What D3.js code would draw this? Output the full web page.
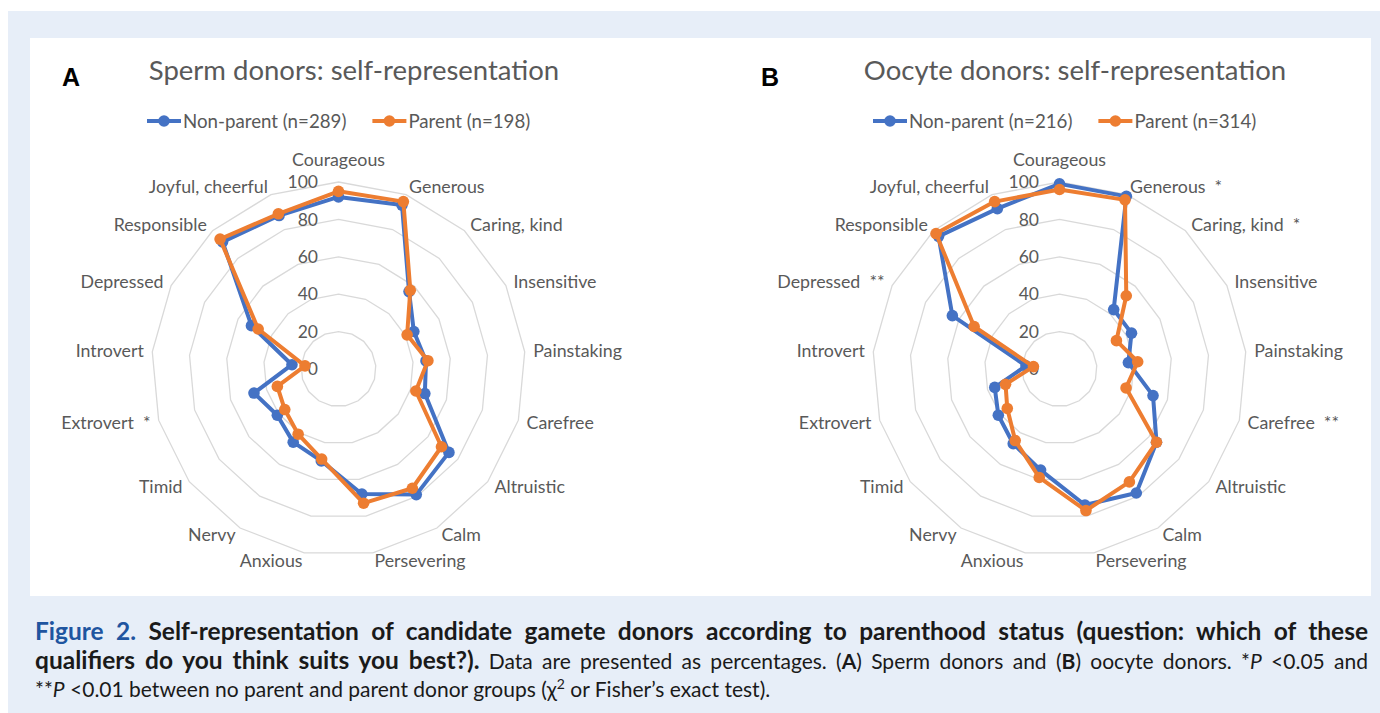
<!DOCTYPE html>
<html>
<head>
<meta charset="utf-8">
<script src="https://cdn.jsdelivr.net/npm/d3@7"></script>
<style>
  html, body { margin: 0; padding: 0; background: #ffffff; }
  svg text { font-family: Lato, "Open Sans", sans-serif; }
  .pre { white-space: pre; }
</style>
</head>
<body>
<svg id="fig" width="1380" height="713"></svg>
<script>
// Qualifiers, clockwise from the top of each radar
const categories = [
  "Courageous", "Generous", "Caring, kind", "Insensitive", "Painstaking",
  "Carefree", "Altruistic", "Calm", "Persevering", "Anxious", "Nervy",
  "Timid", "Extrovert", "Introvert", "Depressed", "Responsible", "Joyful, cheerful"
];

// Percentages of donors choosing each qualifier
const spermNonParent  = [92, 94, 56, 45, 47, 48, 74, 79, 68, 50, 46, 41, 47, 25, 52, 92, 88];
const spermParent     = [95, 96, 57, 41, 48, 43, 69, 75, 73, 49, 41, 36, 34, 18, 48, 94, 89];
const oocyteNonParent = [99, 99, 43, 43, 37, 52, 65, 78, 74, 55, 47, 41, 36, 18, 64, 96, 92];
const oocyteParent    = [96, 97, 53, 34, 42, 37, 65, 71, 77, 59, 45, 35, 30, 14, 51, 98, 96];

// Significance marks appended to the qualifier labels
const spermStars  = ["", "", "", "", "", "", "", "", "", "", "", "", "*", "", "", "", ""];
const oocyteStars = ["", "*", "*", "", "", "**", "", "", "", "", "", "", "", "", "**", "", ""];

const radialTicks = [0, 20, 40, 60, 80, 100];
const spermLegend  = ["Non-parent (n=289)", "Parent (n=198)"];
const oocyteLegend = ["Non-parent (n=216)", "Parent (n=314)"];
const seriesColors = ["#4472C4", "#ED7D31"];

const svg = d3.select("#fig");

// Figure frame: tinted block with a white chart panel
svg.append("rect").attr("x", 8).attr("y", 11).attr("width", 1380).attr("height", 713).attr("fill", "#e7eef8");
svg.append("rect").attr("x", 30).attr("y", 38).attr("width", 1341).attr("height", 558).attr("fill", "#ffffff");

const R = 187;
const rScale = d3.scaleLinear().domain([0, 100]).range([0, R]);
const angle = d3.scaleLinear().domain([0, categories.length]).range([0, 2 * Math.PI]);
const textGrey = "#595959";
const labelSize = 17.8;

function radar(opts) {
  const g = svg.append("g").attr("transform", `translate(${opts.cx},${opts.cy})`);

  // concentric grid polygons
  const ring = d3.lineRadial()
    .angle((d, i) => angle(i))
    .radius(d => rScale(d))
    .curve(d3.curveLinearClosed);
  radialTicks.filter(t => t > 0).forEach(t => {
    g.append("path")
      .attr("d", ring(categories.map(() => t)))
      .attr("fill", "none")
      .attr("stroke", "#d9d9d9")
      .attr("stroke-width", 1.3);
  });

  // value axis labels
  g.selectAll("text.tick").data(radialTicks).join("text")
    .attr("class", "tick")
    .attr("x", -20.5)
    .attr("y", t => -rScale(t))
    .attr("dy", "0.35em")
    .attr("text-anchor", "end")
    .attr("font-size", 17.5)
    .attr("fill", textGrey)
    .text(d => d);

  // series lines and markers
  opts.series.forEach((vals, s) => {
    g.append("path")
      .attr("d", ring(vals))
      .attr("fill", "none")
      .attr("stroke", seriesColors[s])
      .attr("stroke-width", 4)
      .attr("stroke-linejoin", "round");
    g.selectAll(null).data(vals).join("circle")
      .attr("cx", (d, i) => rScale(d) * Math.sin(angle(i)))
      .attr("cy", (d, i) => -rScale(d) * Math.cos(angle(i)))
      .attr("r", 5.8)
      .attr("fill", seriesColors[s]);
  });

  // qualifier labels around the outer ring
  categories.forEach((c, i) => {
    const a = angle(i);
    const sx = Math.sin(a), cy = Math.cos(a);
    const label = opts.stars[i] ? `${c}  ${opts.stars[i]}` : c;
    const t = g.append("text")
      .attr("class", "pre")
      .attr("font-size", labelSize)
      .attr("fill", textGrey)
      .text(label);
    if (i === 0) {
      t.attr("x", 0).attr("y", -R - 22).attr("dy", "0.35em").attr("text-anchor", "middle");
    } else {
      const px = (R + 8.5) * sx;
      const py = -(R + 8.5) * cy;
      t.attr("x", px).attr("y", py).attr("dy", "0.35em")
        .attr("text-anchor", sx > 0 ? "start" : "end");
    }
  });

  // panel letter and title
  svg.append("text")
    .attr("x", opts.letterX).attr("y", 86)
    .style("font-family", "'Liberation Sans', Arial, sans-serif")
    .attr("font-weight", "bold").attr("font-size", 25).attr("fill", "#000")
    .text(opts.letter);
  svg.append("text")
    .attr("x", opts.titleX).attr("y", 80)
    .attr("text-anchor", "middle")
    .attr("font-size", 27.5).attr("fill", textGrey)
    .text(opts.title);

  // legend
  let x = opts.legendX;
  const ly = 121;
  opts.legend.forEach((name, s) => {
    svg.append("line")
      .attr("x1", x).attr("x2", x + 34).attr("y1", ly).attr("y2", ly)
      .attr("stroke", seriesColors[s]).attr("stroke-width", 4);
    svg.append("circle").attr("cx", x + 17).attr("cy", ly).attr("r", 5.8).attr("fill", seriesColors[s]);
    const lt = svg.append("text")
      .attr("x", x + 36).attr("y", ly).attr("dy", "0.35em")
      .attr("font-size", 18.7).attr("fill", textGrey)
      .text(name);
    x = x + 36 + lt.node().getComputedTextLength() + 26;
  });
}

radar({
  cx: 338.5, cy: 369, letter: "A", letterX: 62, titleX: 354, legendX: 147,
  title: "Sperm donors: self-representation",
  series: [spermNonParent, spermParent], stars: spermStars, legend: spermLegend
});
radar({
  cx: 1059.5, cy: 369, letter: "B", letterX: 761, titleX: 1075, legendX: 873,
  title: "Oocyte donors: self-representation",
  series: [oocyteNonParent, oocyteParent], stars: oocyteStars, legend: oocyteLegend
});

// Caption
const capBlue = "#1f55a0";
const capLeft = 35, capRight = 1368;
const boldSize = 24.5, plainSize = 21;

function captionLine(y, parts, justify) {
  const t = svg.append("text").attr("x", capLeft).attr("y", y).attr("class", "pre").attr("fill", "#1a1a1a");
  parts.forEach(p => {
    const sp = t.append("tspan").text(p.text)
      .attr("font-size", p.size || (p.bold ? boldSize : plainSize))
      .attr("font-weight", p.bold ? "bold" : "normal");
    if (p.italic) sp.attr("font-style", "italic");
    if (p.color) sp.attr("fill", p.color);
    if (p.sup) sp.attr("baseline-shift", "super").attr("font-size", 14);
  });
  if (justify) {
    const natural = t.node().getComputedTextLength();
    const spaces = (t.text().match(/ /g) || []).length;
    t.attr("word-spacing", (capRight - capLeft - natural) / spaces);
  }
  return t;
}

captionLine(640, [
  { text: "Figure 2.", bold: true, color: capBlue },
  { text: " Self-representation of candidate gamete donors according to parenthood status (question: which of these", bold: true }
], true);

captionLine(669, [
  { text: "qualifiers do you think suits you best?).", bold: true },
  { text: " Data are presented as percentages. (" },
  { text: "A", bold: true, size: plainSize },
  { text: ") Sperm donors and (" },
  { text: "B", bold: true, size: plainSize },
  { text: ") oocyte donors. *" },
  { text: "P", italic: true },
  { text: " <0.05 and" }
], true);

captionLine(697, [
  { text: "**" },
  { text: "P", italic: true },
  { text: " <0.01 between no parent and parent donor groups (\u03C7" },
  { text: "2", sup: true },
  { text: " or Fisher\u2019s exact test)." }
], false);
</script>
</body>
</html>
